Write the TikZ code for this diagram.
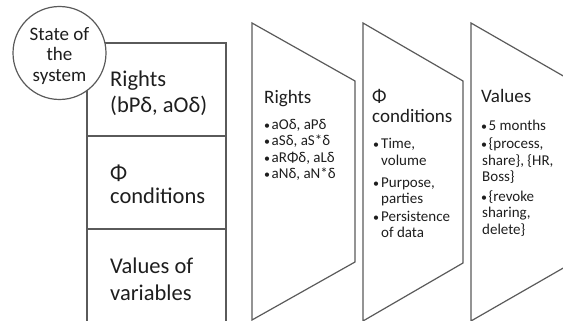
\documentclass[tikz,border=0pt]{standalone}
\usepackage{fontspec}
\setmainfont{Carlito}
\definecolor{ink}{HTML}{1E1E1E}
\definecolor{edge}{HTML}{5A5A5A}
\begin{document}
\begin{tikzpicture}[x=1pt,y=-1pt,
  frame/.style={draw=edge, line width=1.2pt},
  cell/.style={frame, rectangle, minimum width=139pt, minimum height=93pt, inner sep=0pt},
  big/.style={anchor=base west, inner sep=0pt, text=ink,
    font=\fontsize{22.5}{26}\selectfont},
  round/.style={anchor=base, inner sep=0pt, text=ink,
    font=\fontsize{19}{21}\selectfont},
  head/.style={anchor=base west, inner sep=0pt, text=ink,
    font=\fontsize{19}{20}\selectfont},
  item/.style={anchor=base west, inner sep=0pt, text=ink,
    font=\fontsize{15}{16}\selectfont},
  dot/.style={item, font=\fontsize{12}{16}\selectfont}]
\useasboundingbox (0,0) rectangle (563,321);
\clip (0,0) rectangle (563,321);

% three stacked cells of the system state
\node[cell] (rights) at (156.5,89.5) {};
\node[cell] (cond)   at (156.5,182.5) {};
\node[cell] (vals)   at (156.5,275.5) {};
\node[big] (r1) at (110,87) {Rights};
\node[big] (r2) at (110,113) {(bPδ, aOδ)};
\node[big] (c1) at (110,180) {Φ};
\node[big] (c2) at (110,203) {conditions};
\node[big] (v1) at (110,273) {Values of};
\node[big] (v2) at (110,300) {variables};

% label circle over the top-left corner
\node[circle, frame, fill=white, minimum size=93pt, inner sep=0pt] (state) at (59.5,53) {};
\node[round] (s1) at (59.5,41) {State of};
\node[round] (s2) at (59.5,61) {the};
\node[round] (s3) at (59.5,82) {system};

% three chevron panels
\draw[frame] (252,23) -- (355,81) -- (355,262) -- (252,320) -- cycle;
\draw[frame] (363,23) -- (463,81) -- (463,263) -- (363,321) -- cycle;
\draw[frame] (471,23) -- (572,81) -- (572,263) -- (471,321) -- cycle;

% panel 1: rights
\node[head] (h1) at (264,103.5) {Rights};
\node[dot] (d1a) at (264,129) {•};
\node[item] (i1a) at (271.5,129) {aOδ, aPδ};
\node[dot] (d1b) at (264,145.5) {•};
\node[item] (i1b) at (271.5,145.5) {aSδ, aS*δ};
\node[dot] (d1c) at (264,162) {•};
\node[item] (i1c) at (271.5,162) {aRΦδ, aLδ};
\node[dot] (d1d) at (264,178.5) {•};
\node[item] (i1d) at (271.5,178.5) {aNδ, aN*δ};

% panel 2: conditions
\node[head] (h2a) at (372,102.5) {Φ};
\node[head] (h2b) at (372,122.5) {conditions};
\node[dot] (d2a) at (373,148) {•};
\node[item] (i2a) at (381,148) {Time,};
\node[item] (i2b) at (381,165) {volume};
\node[dot] (d2c) at (373,187) {•};
\node[item] (i2c) at (381,187) {Purpose,};
\node[item] (i2d) at (381,204) {parties};
\node[dot] (d2e) at (373,221) {•};
\node[item] (i2e) at (381,221) {Persistence};
\node[item] (i2f) at (381,237) {of data};

% panel 3: values
\node[head] (h3) at (481,102.5) {Values};
\node[dot] (d3a) at (481,131) {•};
\node[item] (i3a) at (488.5,131) {5 months};
\node[dot] (d3b) at (481,148) {•};
\node[item] (i3b) at (488.5,148) {\{process,};
\node[item] (i3c) at (482,165) {share\}, \{HR,};
\node[item] (i3d) at (482,182) {Boss\}};
\node[dot] (d3e) at (481,201) {•};
\node[item] (i3e) at (488.5,201) {\{revoke};
\node[item] (i3f) at (482,217) {sharing,};
\node[item] (i3g) at (482,234) {delete\}};
\end{tikzpicture}
\end{document}
